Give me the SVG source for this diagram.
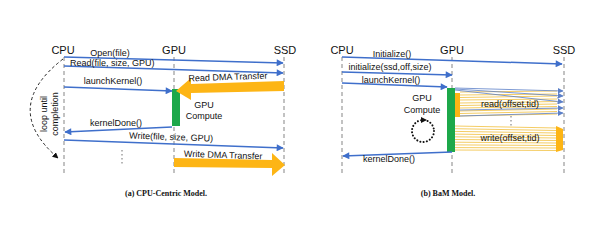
<svg xmlns="http://www.w3.org/2000/svg" width="600" height="225" viewBox="0 0 600 225">
<defs>
<style>
.ll{stroke:#9a9a9a;stroke-width:1.2;stroke-dasharray:4 3;fill:none}
.hd{font-family:"Liberation Sans",Arial,sans-serif;font-size:11px;fill:#111}
.lb{font-family:"Liberation Sans",Arial,sans-serif;font-size:9px;fill:#111}
.cap{font-family:"Liberation Serif","Times New Roman",serif;font-size:8px;font-weight:bold;fill:#111}
.bl{stroke:#3F6FCB;stroke-width:1.5;fill:none}
.yl{stroke:#F3C651;stroke-width:0.9;fill:none}
.bt{stroke:#5B7FC8;stroke-width:0.8;fill:none}
.or{fill:#FDB515}
.gr{fill:#1DA84A}
</style>
<marker id="ab" viewBox="0 0 10 10" refX="9" refY="5" markerWidth="8" markerHeight="7" markerUnits="userSpaceOnUse" orient="auto"><path d="M0,0 L10,5 L0,10 z" fill="#3F6FCB"/></marker>
<marker id="as" viewBox="0 0 10 10" refX="9" refY="5" markerWidth="6" markerHeight="6" markerUnits="userSpaceOnUse" orient="auto"><path d="M0,0 L10,5 L0,10 z" fill="#5B7FC8"/></marker>
<marker id="ak" viewBox="0 0 10 10" refX="9" refY="5" markerWidth="6" markerHeight="6" markerUnits="userSpaceOnUse" orient="auto"><path d="M0,0 L10,5 L0,10 z" fill="#111"/></marker>
</defs>
<rect width="600" height="225" fill="#fff"/>

<!-- Panel (a) nodes -->
<g id="a-cpu"><text class="hd" x="63" y="54" text-anchor="middle">CPU</text><line class="ll" x1="64" y1="57" x2="64" y2="173"/></g>
<g id="a-gpu"><text class="hd" x="174" y="54" text-anchor="middle">GPU</text><line class="ll" x1="174" y1="57" x2="174" y2="173"/></g>
<g id="a-ssd"><text class="hd" x="285" y="54" text-anchor="middle">SSD</text><line class="ll" x1="284" y1="57" x2="284" y2="173"/></g>
<g id="a-compute"><rect class="gr" x="172" y="89" width="8" height="37"/><text class="lb" x="204" y="108" text-anchor="middle">GPU</text><text class="lb" x="204" y="119" text-anchor="middle">Compute</text></g>
<g id="a-loop"><text class="lb" transform="translate(47,114) rotate(-90)" text-anchor="middle">loop until</text><text class="lb" transform="translate(58,114) rotate(-90)" text-anchor="middle">completion</text></g>

<!-- Panel (b) nodes -->
<g id="b-cpu"><text class="hd" x="342" y="54" text-anchor="middle">CPU</text><line class="ll" x1="342" y1="57" x2="342" y2="173"/></g>
<g id="b-gpu"><text class="hd" x="452" y="54" text-anchor="middle">GPU</text><line class="ll" x1="452" y1="57" x2="452" y2="173"/></g>
<g id="b-ssd"><text class="hd" x="564" y="54" text-anchor="middle">SSD</text><line class="ll" x1="564" y1="57" x2="564" y2="173"/></g>
<g id="b-compute"><rect class="gr" x="447" y="88" width="8" height="64"/><text class="lb" x="422" y="101" text-anchor="middle">GPU</text><text class="lb" x="422" y="113" text-anchor="middle">Compute</text>
<circle cx="423" cy="131" r="11" fill="none" stroke="#111" stroke-width="2" stroke-dasharray="0.1 3.2" stroke-linecap="round"/><path d="M421,117 L427,120 L421,123 z" fill="#111"/></g>

<!-- Connectors -->
<g id="connectors">
<!-- (a) -->
<line class="bl" x1="64" y1="57" x2="283" y2="63" marker-end="url(#ab)"/>
<line class="bl" x1="64" y1="66" x2="283" y2="73" marker-end="url(#ab)"/>
<line class="bl" x1="64" y1="87" x2="172" y2="91" marker-end="url(#ab)"/>
<polygon class="or" points="284,81 284,91 191,93 191,100 176,91 191,78 191,84"/>
<line class="bl" x1="172" y1="127" x2="65" y2="132" marker-end="url(#ab)"/>
<line class="bl" x1="64" y1="140" x2="283" y2="148" marker-end="url(#ab)"/>
<polygon class="or" points="174,158 272,160 272,153 285,165 272,176 272,168 174,167"/>
<line x1="122" y1="150" x2="122" y2="165" stroke="#999" stroke-width="1.4" stroke-dasharray="1.5 2.5"/>
<path d="M63,59 Q0,108 58,158" fill="none" stroke="#222" stroke-width="1" stroke-dasharray="3 2.5" marker-end="url(#ak)"/>
<!-- (b) -->
<line class="bl" x1="342" y1="57" x2="562" y2="64" marker-end="url(#ab)"/>
<line class="bl" x1="342" y1="72" x2="452" y2="75" marker-end="url(#ab)"/>
<line class="bl" x1="342" y1="83" x2="447" y2="87" marker-end="url(#ab)"/>
<line class="bl" x1="452" y1="152" x2="343" y2="156" marker-end="url(#ab)"/>
<!-- read bundle -->
<g id="read-bundle">
<line class="yl" x1="460" y1="92" x2="557" y2="91"/>
<line class="yl" x1="460" y1="95" x2="557" y2="94"/>
<line class="yl" x1="460" y1="97.5" x2="557" y2="96"/>
<line class="yl" x1="460" y1="100" x2="557" y2="99"/>
<line class="yl" x1="460" y1="103" x2="557" y2="101.5"/>
<line class="yl" x1="460" y1="105.5" x2="557" y2="104"/>
<line class="yl" x1="460" y1="108" x2="557" y2="106.5"/>
<line class="yl" x1="460" y1="111" x2="557" y2="109"/>
<line class="yl" x1="460" y1="113.5" x2="557" y2="111.5"/>
<line class="yl" x1="460" y1="116" x2="557" y2="114"/>
<rect class="or" x="455" y="93" width="5" height="24"/>
<line class="bt" x1="455" y1="88" x2="563" y2="91" marker-end="url(#as)"/>
<line class="bt" x1="455" y1="89" x2="563" y2="96" marker-end="url(#as)"/>
<line class="bt" x1="455" y1="90" x2="563" y2="102" marker-end="url(#as)"/>
<line class="bt" x1="460" y1="110" x2="563" y2="108" marker-end="url(#as)"/>
<line class="bt" x1="460" y1="116" x2="563" y2="113" marker-end="url(#as)"/>
</g>
<line x1="511" y1="116" x2="511" y2="127" stroke="#999" stroke-width="1.4" stroke-dasharray="1.5 2.5"/>
<!-- write bundle -->
<g id="write-bundle">
<line class="yl" x1="455" y1="126" x2="557" y2="128"/>
<line class="yl" x1="455" y1="128.7" x2="557" y2="130.5"/>
<line class="yl" x1="455" y1="131.4" x2="557" y2="133"/>
<line class="yl" x1="455" y1="134.1" x2="557" y2="135.5"/>
<line class="yl" x1="455" y1="136.8" x2="557" y2="138"/>
<line class="yl" x1="455" y1="139.5" x2="557" y2="140.5"/>
<line class="yl" x1="455" y1="142.2" x2="557" y2="143"/>
<line class="yl" x1="455" y1="144.9" x2="557" y2="145.5"/>
<line class="yl" x1="455" y1="147.6" x2="557" y2="148"/>
<line class="yl" x1="455" y1="150" x2="557" y2="150.5"/>
<polygon class="or" points="556,126 563,129 563,150 556,152"/>
</g>
</g>

<!-- Labels -->
<g id="labels">
<text class="lb" x="110" y="56" text-anchor="middle">Open(file)</text>
<text class="lb" x="70" y="66">Read(file, size, GPU)</text>
<text class="lb" x="113" y="84" text-anchor="middle">launchKernel()</text>
<text class="lb" x="228" y="80" text-anchor="middle" transform="rotate(-2 228 80)">Read DMA Transfer</text>
<text class="lb" x="116" y="126" text-anchor="middle">kernelDone()</text>
<text class="lb" x="171" y="140" text-anchor="middle" transform="rotate(2 171 140)">Write(file, size, GPU)</text>
<text class="lb" x="223" y="158" text-anchor="middle" transform="rotate(2 223 158)">Write DMA Transfer</text>
<text class="cap" x="166" y="196" text-anchor="middle">(a) CPU-Centric Model.</text>
<text class="lb" x="392" y="57" text-anchor="middle">Initialize()</text>
<text class="lb" x="390" y="70" text-anchor="middle">initialize(ssd,off,size)</text>
<text class="lb" x="391" y="83" text-anchor="middle">launchKernel()</text>
<text class="lb" x="510" y="107" text-anchor="middle">read(offset,tid)</text>
<text class="lb" x="510" y="141" text-anchor="middle">write(offset,tid)</text>
<text class="lb" x="389" y="162" text-anchor="middle">kernelDone()</text>
<text class="cap" x="448" y="196" text-anchor="middle">(b)  BaM Model.</text>
</g>
</svg>
